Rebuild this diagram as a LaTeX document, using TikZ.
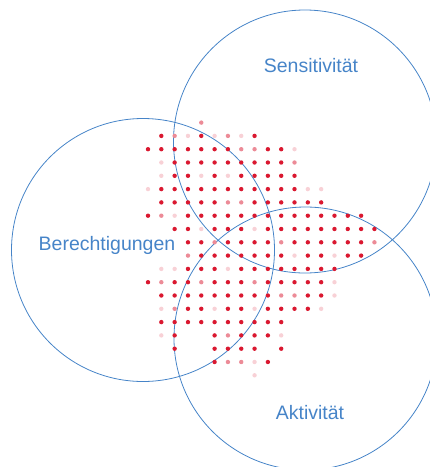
\documentclass[tikz,border=0pt]{standalone}
\usepackage{fontspec}
\setmainfont{Liberation Sans}
\definecolor{ringblue}{RGB}{70,132,200}
\definecolor{dotred}{RGB}{218,24,48}
\tikzset{
  ring/.style={draw=ringblue, line width=0.8pt},
  setlabel/.style={text=ringblue, font=\fontsize{19.5}{22}\selectfont, anchor=base, inner sep=0pt},
  rd/.style={fill=dotred},
  pk/.style={fill=dotred!50},
  lt/.style={fill=dotred!20},
}

\begin{document}
\begin{tikzpicture}[x=1pt, y=-1pt]
  \useasboundingbox (0,0) rectangle (430,467);
  % the three sets
  \coordinate (sens) at (305,141.5);
  \coordinate (ber) at (143,250);
  \coordinate (akt) at (305.5,338.5);
  \draw[ring] (sens) circle[radius=131.5pt];
  \draw[ring] (ber) circle[radius=131.5pt];
  \draw[ring] (akt) circle[radius=131.5pt];
  % dot grid, row \r / column \c
  \foreach \r/\cols in {
    0/{4/pk},
    1/{1/rd,2/pk,3/lt,4/rd,5/lt,6/pk,7/lt,8/rd},
    2/{0/rd,1/rd,2/rd,3/rd,4/rd,5/rd,6/rd,7/pk,8/pk,9/rd,10/rd,11/lt},
    3/{1/lt,2/rd,3/rd,4/rd,5/rd,6/rd,7/rd,8/rd,9/rd,10/rd,11/pk},
    4/{1/lt,2/rd,3/rd,4/lt,5/rd,6/lt,7/rd,8/rd,9/rd,10/rd,11/rd},
    5/{0/lt,1/rd,2/rd,3/rd,4/rd,5/rd,6/rd,7/rd,8/rd,9/rd,10/rd,11/rd,12/lt,13/lt},
    6/{1/rd,2/rd,3/rd,4/rd,5/rd,6/pk,7/pk,8/rd,9/rd,10/rd,11/rd,12/rd,13/rd},
    7/{0/rd,1/pk,2/lt,3/rd,4/rd,5/rd,6/rd,7/rd,8/rd,9/rd,10/rd,11/rd,12/rd,13/rd,14/rd,15/rd,16/rd},
    8/{2/rd,3/rd,4/lt,5/rd,6/rd,7/rd,8/lt,9/rd,10/rd,11/rd,12/rd,13/rd,14/rd,15/rd,16/rd,17/rd},
    9/{3/rd,4/rd,5/pk,6/rd,7/rd,8/rd,9/rd,10/pk,11/rd,12/rd,13/rd,14/rd,15/rd,16/rd,17/pk},
    10/{3/pk,4/rd,5/rd,6/rd,7/rd,8/rd,9/rd,10/rd,11/lt,12/rd,13/rd,14/lt,15/rd,16/rd},
    11/{1/lt,2/lt,3/rd,4/rd,5/rd,6/lt,7/rd,8/rd,9/rd,10/rd,11/rd,12/rd,13/rd,14/rd},
    12/{0/rd,1/pk,2/rd,3/rd,4/pk,5/rd,6/rd,7/rd,8/pk,9/rd,10/rd,11/rd,12/rd,13/rd,14/lt},
    13/{1/rd,2/rd,3/rd,4/rd,5/rd,6/rd,7/rd,8/rd,9/rd,10/pk,11/pk,12/rd,13/rd,14/lt},
    14/{1/lt,2/pk,3/rd,4/rd,5/lt,6/rd,7/rd,8/lt,9/rd,10/rd,11/rd,12/rd,13/lt},
    15/{1/rd,2/rd,3/rd,4/rd,5/rd,6/rd,7/rd,8/rd,9/rd,10/rd},
    16/{1/lt,2/rd,5/rd,6/pk,7/rd,8/rd,9/rd,10/lt},
    17/{2/rd,5/rd,6/rd,7/rd,8/rd,10/rd},
    18/{5/rd,6/pk,7/pk,8/lt,9/rd},
    19/{8/lt}}{
    \foreach \c/\s in \cols
      \fill[\s] (148+13.32*\c, 122.6+13.3*\r) circle[radius=2.2pt];
  }
  \node[setlabel] (senslabel) at (311,72.5) {Sensitivität};
  \node[setlabel] (berlabel) at (107,250) {Berechtigungen};
  \node[setlabel] (aktlabel) at (310,419) {Aktivität};
\end{tikzpicture}
\end{document}
